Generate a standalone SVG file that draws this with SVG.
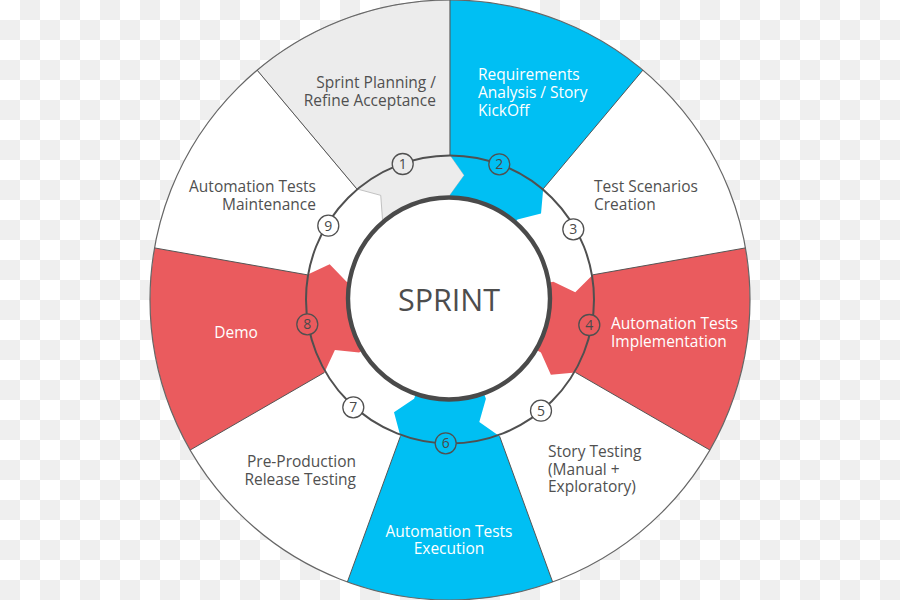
<svg xmlns="http://www.w3.org/2000/svg" width="900" height="600" viewBox="0 0 900 600">
<defs>
<pattern id="checker" width="40" height="40" patternUnits="userSpaceOnUse">
<rect width="40" height="40" fill="#ffffff"/>
<rect x="20" y="0" width="20" height="20" fill="#efefef"/>
<rect x="0" y="20" width="20" height="20" fill="#efefef"/>
</pattern>
<style>
.lbl{font-family:"Open Sans","Noto Sans","Liberation Sans",sans-serif;font-size:15.5px;fill:#505050}
.lw{fill:#ffffff}
.num{font-family:"Open Sans","Noto Sans","Liberation Sans",sans-serif;font-size:14px;fill:#4a4a4a;text-anchor:middle}
.badge{stroke:#505050;stroke-width:1.3}
.radial{stroke:#555555;stroke-width:1;fill:none}
.blue{fill:#00bff3}
.red{fill:#ea5b5e}
.grey{fill:#ececec;stroke:#b4b4b4;stroke-width:0.8}
</style>
</defs>
<rect width="900" height="600" fill="url(#checker)"/>
<circle cx="450" cy="300" r="300" fill="#ffffff"/>

<g id="node-1">
<path class="grey" d="M257.16,70.19 A300,300 0 0 1 450,0 L450,155 L464.21,175.31 L450,195 L450,205 A95,95 0 0 0 388.94,227.23 L382.51,219.57 L380.73,195.35 L356.80,188.92 Z"/>
<text class="lbl" text-anchor="end"><tspan x="436" y="88">Sprint Planning /</tspan><tspan x="436" y="106">Refine Acceptance</tspan></text>
</g>
<g id="node-2">
<path class="blue" d="M450,0 A300,300 0 0 1 642.84,70.19 L543.20,188.92 L541.03,213.61 L517.49,219.57 L511.06,227.23 A95,95 0 0 0 450,205 L450,195 L464.21,175.31 L450,155 Z"/>
<text class="lbl lw"><tspan x="478" y="80">Requirements</tspan><tspan x="478" y="98">Analysis / Story</tspan><tspan x="478" y="116">KickOff</tspan></text>
</g>
<g id="node-3">
<text class="lbl"><tspan x="594" y="192">Test Scenarios</tspan><tspan x="594" y="210">Creation</tspan></text>
</g>
<g id="node-4">
<path class="red" d="M745.44,247.91 A300,300 0 0 1 709.81,450 L575.57,372.5 L550.88,374.65 L540.93,352.5 L532.27,347.5 A95,95 0 0 0 543.56,283.50 L553.41,281.77 L575.27,292.34 L592.80,274.82 Z"/>
<text class="lbl lw"><tspan x="611" y="329">Automation Tests</tspan><tspan x="611" y="347">Implementation</tspan></text>
</g>
<g id="node-5">
<text class="lbl"><tspan x="548" y="457">Story Testing</tspan><tspan x="548" y="475">(Manual +</tspan><tspan x="548" y="492">Exploratory)</tspan></text>
</g>
<g id="node-6">
<path class="blue" d="M552.61,581.91 A300,300 0 0 1 347.39,581.91 L400.41,436.26 L394.00,412.31 L414.09,398.67 L417.51,389.27 A95,95 0 0 0 482.49,389.27 L485.91,398.67 L479.30,422.03 L499.59,436.26 Z"/>
<text class="lbl lw" text-anchor="middle"><tspan x="449" y="537">Automation Tests</tspan><tspan x="449" y="554">Execution</tspan></text>
</g>
<g id="node-7">
<text class="lbl" text-anchor="end"><tspan x="356" y="467">Pre-Production</tspan><tspan x="356" y="485">Release Testing</tspan></text>
</g>
<g id="node-8">
<path class="red" d="M190.19,450 A300,300 0 0 1 154.56,247.91 L307.20,274.82 L329.67,264.36 L346.59,281.77 L356.44,283.50 A95,95 0 0 0 367.73,347.5 L359.07,352.5 L334.91,350.04 L324.43,372.5 Z"/>
<text class="lbl lw" text-anchor="middle" x="236" y="338">Demo</text>
</g>
<g id="node-9">
<text class="lbl" text-anchor="end"><tspan x="316" y="192">Automation Tests</tspan><tspan x="316" y="210">Maintenance</tspan></text>
</g>

<g id="connectors">
<circle cx="450" cy="300" r="300" fill="none" stroke="#666666" stroke-width="1.2"/>
<line class="radial" x1="450" y1="155" x2="450" y2="0"/>
<line class="radial" x1="543.20" y1="188.92" x2="642.84" y2="70.19"/>
<line class="radial" x1="592.80" y1="274.82" x2="745.44" y2="247.91"/>
<line class="radial" x1="575.57" y1="372.5" x2="709.81" y2="450"/>
<line class="radial" x1="499.59" y1="436.26" x2="552.61" y2="581.91"/>
<line class="radial" x1="400.41" y1="436.26" x2="347.39" y2="581.91"/>
<line class="radial" x1="324.43" y1="372.5" x2="190.19" y2="450"/>
<line class="radial" x1="307.20" y1="274.82" x2="154.56" y2="247.91"/>
<line class="radial" x1="356.80" y1="188.92" x2="257.16" y2="70.19"/>
<circle cx="450" cy="299.5" r="144" fill="none" stroke="#505050" stroke-width="2"/>
</g>

<g id="step-1"><circle class="badge" cx="402.7" cy="164" r="10.5" fill="#ececec"/><text class="num" x="402.7" y="169">1</text></g>
<g id="step-2"><circle class="badge" cx="499.3" cy="164.3" r="10.5" fill="#00bff3"/><text class="num" x="499.3" y="169.3">2</text></g>
<g id="step-3"><circle class="badge" cx="573.3" cy="229.3" r="10.5" fill="#ffffff"/><text class="num" x="573.3" y="234.3">3</text></g>
<g id="step-4"><circle class="badge" cx="589.3" cy="325" r="10.5" fill="#ea5b5e"/><text class="num" x="589.3" y="330">4</text></g>
<g id="step-5"><circle class="badge" cx="541" cy="410.7" r="10.5" fill="#ffffff"/><text class="num" x="541" y="415.7">5</text></g>
<g id="step-6"><circle class="badge" cx="445.7" cy="443.3" r="10.5" fill="#00bff3"/><text class="num" x="445.7" y="448.3">6</text></g>
<g id="step-7"><circle class="badge" cx="353.3" cy="407.3" r="10.5" fill="#ffffff"/><text class="num" x="353.3" y="412.3">7</text></g>
<g id="step-8"><circle class="badge" cx="307.3" cy="324.3" r="10.5" fill="#ea5b5e"/><text class="num" x="307.3" y="329.3">8</text></g>
<g id="step-9"><circle class="badge" cx="328.3" cy="225.7" r="10.5" fill="#ffffff"/><text class="num" x="328.3" y="230.7">9</text></g>

<g id="sprint">
<circle cx="449" cy="298.5" r="101" fill="#ffffff" stroke="#4a4a4a" stroke-width="4.4"/>
<text x="449" y="311" text-anchor="middle" font-family="'Open Sans','Noto Sans','Liberation Sans',sans-serif" font-size="30.5" fill="#4d4d4d">SPRINT</text>
</g>
</svg>
